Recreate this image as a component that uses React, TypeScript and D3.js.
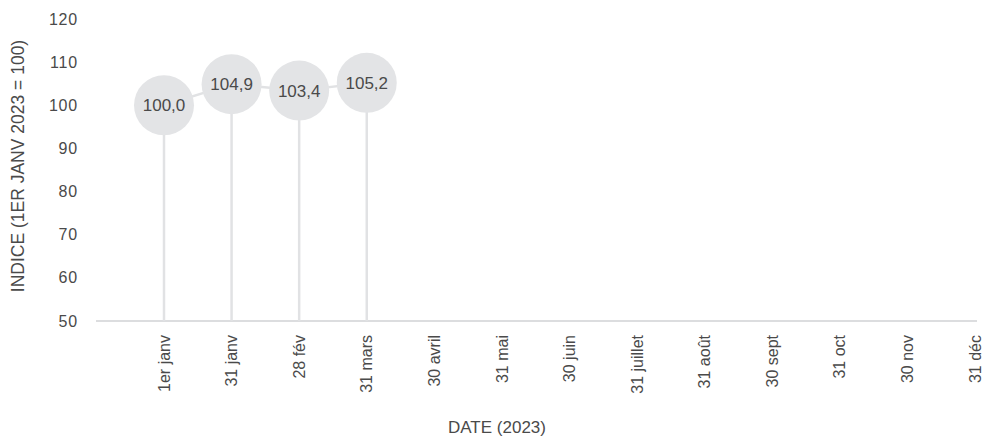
import React from "react";
import * as d3 from "d3";

const categories = ["1er janv", "31 janv", "28 fév", "31 mars", "30 avril", "31 mai", "30 juin", "31 juillet", "31 août", "30 sept", "31 oct", "30 nov", "31 déc"];
const values: (number | null)[] = [100.0, 104.9, 103.4, 105.2, null, null, null, null, null, null, null, null, null];
const yTicks = [50, 60, 70, 80, 90, 100, 110, 120];

const W = 985, H = 442;
const FONT = "'Liberation Sans', Arial, sans-serif";
const TXT = "#4a4a4a";

export default function App() {
  const x = d3.scalePoint<string>().domain(categories).range([164, 975]);
  const y = d3.scaleLinear().domain([50, 120]).range([321, 19]);
  const pts = categories
    .map((c, i) => ({ c, v: values[i] }))
    .filter((d) => d.v != null) as { c: string; v: number }[];
  const line = d3.line<{ c: string; v: number }>().x((d) => x(d.c)!).y((d) => y(d.v));
  const fmt = (v: number) => v.toFixed(1).replace(".", ",");
  return (
    <svg width={W} height={H} style={{ position: "absolute", left: 0, top: 0 }} fontFamily={FONT}>
      <rect width={W} height={H} fill="#fff" />
      {yTicks.map((t) => (
        <text key={t} x={78} y={y(t)} dy="0.35em" textAnchor="end" fontSize={16} letterSpacing={0.8} fill={TXT}>{t}</text>
      ))}
      <line x1={96} x2={977} y1={y(50)} y2={y(50)} stroke="#dcdddf" strokeWidth={2} />
      {categories.map((c) => (
        <text key={c} transform={`translate(${x(c)},335) rotate(-90)`} textAnchor="end" dy="0.35em" fontSize={16} fill={TXT}>{c}</text>
      ))}
      {pts.map((d) => (
        <line key={d.c} x1={x(d.c)} x2={x(d.c)} y1={y(d.v)} y2={y(50)} stroke="#e1e2e4" strokeWidth={2.5} />
      ))}
      <path d={line(pts) || ""} fill="none" stroke="#e1e2e4" strokeWidth={2.5} />
      {pts.map((d) => (
        <g key={d.c}>
          <circle cx={x(d.c)} cy={y(d.v)} r={30} fill="#e3e4e6" />
          <text x={x(d.c)} y={y(d.v)} dy="0.35em" textAnchor="middle" fontSize={17} fill={TXT}>{fmt(d.v)}</text>
        </g>
      ))}
      <text transform={`translate(18,166) rotate(-90)`} textAnchor="middle" dy="0.35em" fontSize={17.5} fill={TXT}>INDICE (1ER JANV 2023 = 100)</text>
      <text x={497} y={427} textAnchor="middle" dy="0.35em" fontSize={17} fill={TXT}>DATE (2023)</text>
    </svg>
  );
}
